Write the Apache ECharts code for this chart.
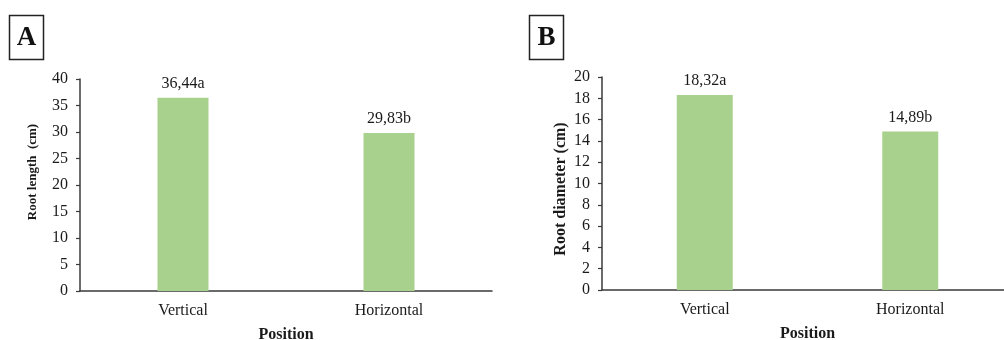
<!DOCTYPE html>
<html>
<head>
<meta charset="utf-8">
<script src="https://cdn.jsdelivr.net/npm/echarts@6/dist/echarts.min.js"></script>
<style>html,body{margin:0;padding:0;background:#fff}#c{width:1004px;height:340px}</style>
</head>
<body>
<div id="c"></div>
<script>
const categories = ['Vertical', 'Horizontal'];
const lengthValues = [36.44, 29.83];
const lengthLetters = ['a', 'b'];
const diameterValues = [18.32, 14.89];
const diameterLetters = ['a', 'b'];
const panelLabels = ['A', 'B'];
const yTitles = ['Root length  (cm)', 'Root diameter (cm)'];
const xTitle = 'Position';

const serif = '"Liberation Serif", "Times New Roman", serif';
const txt = '#1a1a1a';
const axisCol = '#3a3a3a';
const barCol = '#a9d18e';

function fmt(v, letter) { return v.toFixed(2).replace('.', ',') + letter; }

function xAx(idx) {
  return {
    type: 'category', gridIndex: idx, data: categories,
    name: xTitle, nameLocation: 'middle', nameGap: 36,
    nameTextStyle: { fontFamily: serif, fontWeight: 'bold', fontSize: 16, color: txt },
    axisLine: { lineStyle: { color: axisCol, width: 1.5 } },
    axisTick: { show: false },
    axisLabel: { fontFamily: serif, fontSize: 16, color: txt, margin: 12 }
  };
}
function yAx(idx, max, interval) {
  return {
    type: 'value', gridIndex: idx, min: 0, max: max, interval: interval,
    splitLine: { show: false },
    axisLine: { show: true, lineStyle: { color: axisCol, width: 1.5 } },
    axisTick: { show: true, length: 4, lineStyle: { color: axisCol, width: 1.2 } },
    axisLabel: { fontFamily: serif, fontSize: 16, color: txt, margin: 12 }
  };
}
function bar(idx, vals, letters, w) {
  return {
    type: 'bar', xAxisIndex: idx, yAxisIndex: idx, data: vals, barWidth: w,
    itemStyle: { color: barCol },
    label: { show: true, position: 'top', distance: 6, fontFamily: serif, fontSize: 16, color: txt,
      formatter: p => fmt(p.value, letters[p.dataIndex]) }
  };
}

const chart = echarts.init(document.getElementById('c'));
chart.setOption({
  animation: false,
  backgroundColor: '#fff',
  grid: [
    { left: 80, top: 79, width: 412, height: 212, containLabel: false, outerBoundsMode: 'none' },
    { left: 602, top: 77, width: 411, height: 213, containLabel: false, outerBoundsMode: 'none' }
  ],
  xAxis: [xAx(0), xAx(1)],
  yAxis: [yAx(0, 40, 5), yAx(1, 20, 2)],
  series: [bar(0, lengthValues, lengthLetters, 51), bar(1, diameterValues, diameterLetters, 56)],
  graphic: [
    { type: 'rect', shape: { x: 9.5, y: 15.5, width: 34, height: 44 }, style: { fill: '#fff', stroke: '#222', lineWidth: 1.5 } },
    { type: 'text', x: 26.5, y: 38, style: { text: panelLabels[0], font: 'bold 27px ' + serif, fill: '#111', textAlign: 'center', textVerticalAlign: 'middle' } },
    { type: 'rect', shape: { x: 529.5, y: 15.5, width: 34, height: 44 }, style: { fill: '#fff', stroke: '#222', lineWidth: 1.5 } },
    { type: 'text', x: 546.5, y: 38, style: { text: panelLabels[1], font: 'bold 27px ' + serif, fill: '#111', textAlign: 'center', textVerticalAlign: 'middle' } },
    { type: 'text', x: 33, y: 172, rotation: Math.PI / 2, style: { text: yTitles[0], font: 'bold 13px ' + serif, fill: txt, textAlign: 'center', textVerticalAlign: 'middle' } },
    { type: 'text', x: 561, y: 189, rotation: Math.PI / 2, style: { text: yTitles[1], font: 'bold 16px ' + serif, fill: txt, textAlign: 'center', textVerticalAlign: 'middle' } }
  ]
});
</script>
</body>
</html>
